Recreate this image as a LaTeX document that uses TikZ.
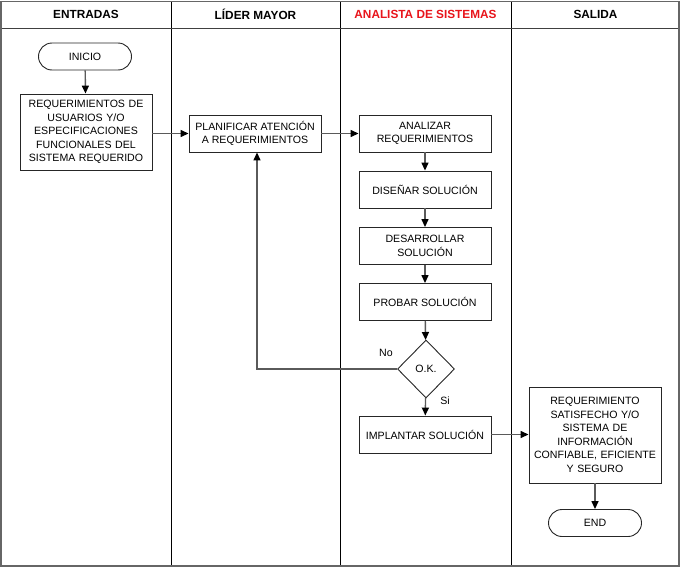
\documentclass[tikz,border=0pt]{standalone}
\usepackage{fontspec}
\setmainfont{Liberation Sans}
\usetikzlibrary{shapes.geometric,arrows.meta}
\definecolor{conn}{HTML}{5A5A5A}
\definecolor{hdrred}{HTML}{E8141B}
\tikzset{
  box/.style={draw=black!85, line width=0.9pt, fill=white, align=center, inner sep=2pt,
    font=\fontsize{10.6}{13.5}\selectfont, minimum width=132pt, minimum height=37pt},
  term/.style={draw=black!85, line width=0.9pt, fill=white, rounded corners=13.5pt,
    font=\fontsize{10.6}{13.5}\selectfont, minimum width=93pt, minimum height=27pt},
  dec/.style={diamond, draw=black!85, line width=0.9pt, fill=white, inner sep=0pt,
    font=\fontsize{10.6}{13.5}\selectfont, minimum width=57pt, minimum height=58pt},
  hdr/.style={font=\fontsize{11.8}{14}\selectfont\bfseries},
  lbl/.style={font=\fontsize{10.6}{12}\selectfont},
  arr/.style={draw=conn, line width=1.4pt, -{Triangle[length=8pt,width=7pt,fill=black,color=black]}},
  lane/.style={draw=black, line width=0.8pt},
}
\begin{document}
\begin{tikzpicture}[x=1pt,y=-1pt]
\useasboundingbox (0,0) rectangle (681,568);
% frame
\draw[lane] (171,2) -- (171,566);
\draw[lane] (340,2) -- (340,566);
\draw[lane] (511,2) -- (511,566);
\draw[draw=black!75, line width=0.8pt] (1,28) -- (679,28);
\draw[draw=black!60, line width=1.8pt] (1,1.5) rectangle (679,566);
% headers
\node[hdr] (h1) at (86,14.5) {ENTRADAS};
\node[hdr] (h2) at (255.5,14.5) {LÍDER MAYOR};
\node[hdr, text=hdrred] (h3) at (425.5,14.5) {ANALISTA DE SISTEMAS};
\node[hdr] (h4) at (595.5,14.5) {SALIDA};
% nodes
\node[term] (ini) at (85,56.5) {INICIO};
\node[box, minimum height=76pt, text width=128pt] (req) at (86,132) {REQUERIMIENTOS DE\\USUARIOS Y/O\\ESPECIFICACIONES\\FUNCIONALES DEL\\SISTEMA REQUERIDO};
\node[box] (plan) at (255,133.5) {PLANIFICAR ATENCIÓN\\A REQUERIMIENTOS};
\node[box] (anal) at (425,133.5) {ANALIZAR\\REQUERIMIENTOS};
\node[box] (dis) at (425,189.5) {DISEÑAR SOLUCIÓN};
\node[box] (des) at (425,246) {DESARROLLAR\\SOLUCIÓN};
\node[box] (prob) at (425,302) {PROBAR SOLUCIÓN};
\node[dec] (ok) at (426,369) {O.K.};
\node[box] (impl) at (425,434.5) {IMPLANTAR SOLUCIÓN};
\node[box, minimum height=96pt, text width=128pt] (res) at (595,435) {REQUERIMIENTO\\SATISFECHO Y/O\\SISTEMA DE\\INFORMACIÓN\\CONFIABLE, EFICIENTE\\Y SEGURO};
\node[term] (end) at (595,523) {END};
% connectors
\draw[arr] (ini) -- (req);
\draw[arr] (req.east |- plan.west) -- (plan.west);
\draw[arr] (plan) -- (anal);
\draw[arr] (anal) -- (dis);
\draw[arr] (dis) -- (des);
\draw[arr] (des) -- (prob);
\draw[arr] (prob) -- (ok);
\draw[arr] (ok) -- (impl);
\draw[arr] (ok.west) -| ([xshift=2pt]plan.south);
\draw[arr] (impl.east) -- (res.west |- impl.east);
\draw[arr] (res) -- (end);
% labels
\node[lbl] (no) at (386,353) {No};
\node[lbl] (si) at (445,401) {Si};
\end{tikzpicture}
\end{document}
